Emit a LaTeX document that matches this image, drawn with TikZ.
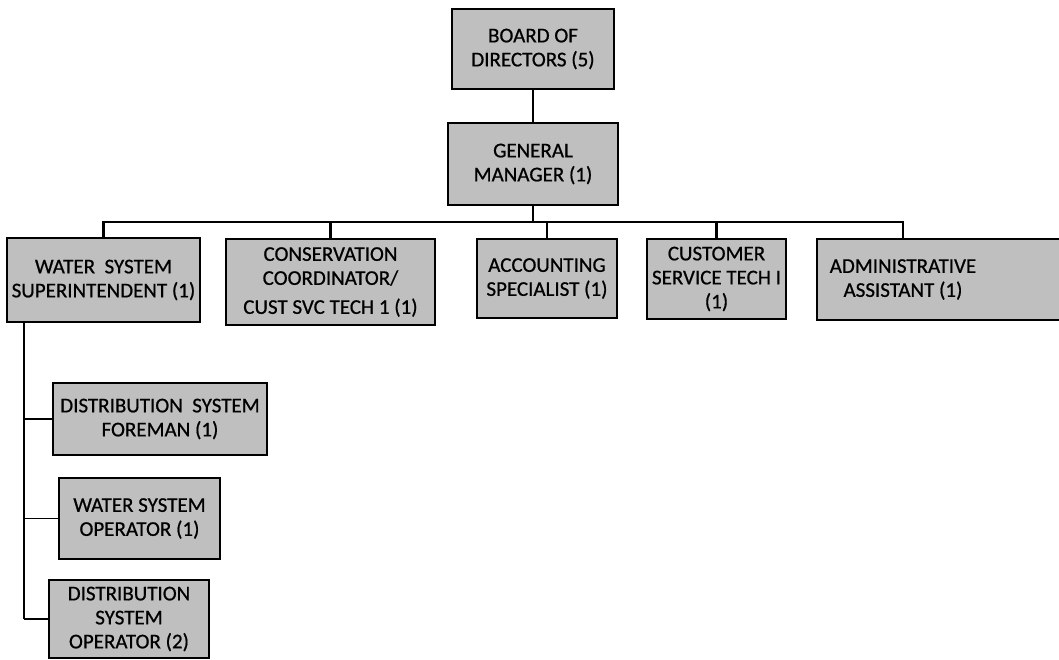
\documentclass[tikz,border=0pt]{standalone}
\usepackage{fontspec}
\newfontfamily\chartfont{Carlito}[FakeBold=0.7]
\usetikzlibrary{positioning}

\begin{document}
\begin{tikzpicture}[
                x=1pt, y=-1pt,
                orgbox/.style={rectangle, draw, line width=1.6pt, fill=black!25, align=center, inner sep=1pt, font=\fontsize{21}{24}\chartfont},
                boxbg/.style={draw, line width=1.6pt, fill=black!25},
                textonly/.style={rectangle, align=center, inner sep=1pt, font=\fontsize{21}{24}\chartfont},
                line/.style={draw, line width=2.2pt},
                stub/.style={draw, line width=1.4pt}
            ]
                \useasboundingbox (0,0) rectangle (1059,660);

                % Top of the chart
                \node [orgbox, minimum width=162pt, minimum height=80pt] (board) at (533,49) {BOARD OF\\DIRECTORS (5)};
                \node [orgbox, minimum width=170pt, minimum height=82pt] (gm) at (533,164) {GENERAL\\MANAGER (1)};

                % Staff row
                \node [orgbox, minimum width=193pt, minimum height=84pt] (wss) at (103.5,280) {WATER\ \ SYSTEM\\SUPERINTENDENT (1)};
                \node [orgbox, minimum width=209pt, minimum height=86pt] (cons) at (330.5,282) {CONSERVATION\\COORDINATOR/\\[5pt]CUST SVC TECH 1 (1)};
                \node [orgbox, minimum width=140pt, minimum height=79pt] (acct) at (547,278.5) {ACCOUNTING\\SPECIALIST (1)};
                \node [orgbox, minimum width=139pt, minimum height=80pt] (cust) at (716.5,279) {CUSTOMER\\SERVICE TECH I\\(1)};
                % admin box runs past the page edge, text sits left of its middle
                \path [boxbg] (817,239) rectangle (1075,320);
                \node [textonly, minimum height=81pt] (admin) at (903,279.5) {ADMINISTRATIVE\\ASSISTANT (1)};

                % Under the superintendent
                \node [orgbox, minimum width=214pt, minimum height=72pt] (foreman) at (160,419) {DISTRIBUTION\ \ SYSTEM\\FOREMAN (1)};
                \node [orgbox, minimum width=161pt, minimum height=81pt] (wso) at (139.5,518.5) {WATER SYSTEM\\OPERATOR (1)};
                \node [orgbox, minimum width=160pt, minimum height=78pt] (dso) at (129,619) {DISTRIBUTION\\SYSTEM\\OPERATOR (2)};

                % Draw edges
                \path [line] (board) -- (gm);
                \path [line] (gm.south) -- ++(0,16) coordinate (bus);
                \path [line] (wss.north) |- (admin.north |- bus) -- (admin.north);
                \foreach \n in {cons, acct, cust}
                    \path [line] (\n.north) -- (\n.north |- bus);

                \coordinate (trunk) at ([xshift=18pt]wss.south west);
                \path [line] (trunk) -- (trunk |- dso.west);
                \foreach \n in {foreman, wso, dso}
                    \path [stub] (trunk |- \n.west) -- (\n.west);
            \end{tikzpicture}
\end{document}
